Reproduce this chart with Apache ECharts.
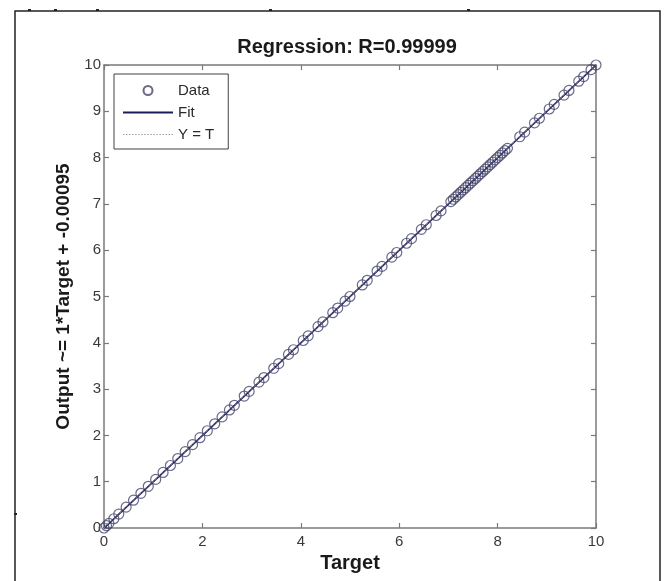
<!DOCTYPE html>
<html>
<head>
<meta charset="utf-8">
<script src="https://cdn.jsdelivr.net/npm/echarts@6/dist/echarts.min.js"></script>
<style>html,body{margin:0;padding:0;background:#fff}#c{width:665px;height:581px}</style>
</head>
<body>
<div id="c"></div>
<script>
// Data
const targets = [0, 0.05, 0.1, 0.2, 0.3, 0.45, 0.6, 0.75, 0.9, 1.05, 1.2, 1.35, 1.5, 1.65, 1.8, 1.95, 2.1, 2.25, 2.4, 2.55, 2.65, 2.85, 2.95, 3.15, 3.25, 3.45, 3.55, 3.75, 3.85, 4.05, 4.15, 4.35, 4.45, 4.65, 4.75, 4.9, 5.0, 5.25, 5.35, 5.55, 5.65, 5.85, 5.95, 6.15, 6.25, 6.45, 6.55, 6.75, 6.85, 7.05, 7.1, 7.15, 7.2, 7.25, 7.3, 7.35, 7.4, 7.45, 7.5, 7.55, 7.6, 7.65, 7.7, 7.75, 7.8, 7.85, 7.9, 7.95, 8.0, 8.05, 8.1, 8.15, 8.2, 8.45, 8.55, 8.75, 8.85, 9.05, 9.15, 9.35, 9.45, 9.65, 9.75, 9.9, 10];
const outputs = [0, 0.05, 0.1, 0.2, 0.3, 0.45, 0.6, 0.75, 0.9, 1.05, 1.2, 1.35, 1.5, 1.65, 1.8, 1.95, 2.1, 2.25, 2.4, 2.55, 2.65, 2.85, 2.95, 3.15, 3.25, 3.45, 3.55, 3.75, 3.85, 4.05, 4.15, 4.35, 4.45, 4.65, 4.75, 4.9, 5.0, 5.25, 5.35, 5.55, 5.65, 5.85, 5.95, 6.15, 6.25, 6.45, 6.55, 6.75, 6.85, 7.05, 7.1, 7.15, 7.2, 7.25, 7.3, 7.35, 7.4, 7.45, 7.5, 7.55, 7.6, 7.65, 7.7, 7.75, 7.8, 7.85, 7.9, 7.95, 8.0, 8.05, 8.1, 8.15, 8.2, 8.45, 8.55, 8.75, 8.85, 9.05, 9.15, 9.35, 9.45, 9.65, 9.75, 9.9, 10];
const fitSlope = 1;
const fitIntercept = -0.00095;
const lineEnds = [0, 10];
const xTicks = [0, 2, 4, 6, 8, 10];
const yTicks = [0, 1, 2, 3, 4, 5, 6, 7, 8, 9, 10];
const titleText = 'Regression: R=0.99999';
const xName = 'Target';
const yName = 'Output ~= 1*Target + -0.00095';
const legendNames = ['Data', 'Fit', 'Y = T'];

const FONT = '"Liberation Sans", Arial, sans-serif';
const axisColor = '#7a7a7a';
const labelColor = '#3a3a3a';

const chart = echarts.init(document.getElementById('c'));

const baseAxis = {
  min: 0, max: 10,
  axisLine: { show: true, onZero: false, lineStyle: { color: axisColor, width: 1.5 } },
  axisTick: { show: true, inside: true, length: 5, lineStyle: { color: axisColor, width: 1.2 } },
  splitLine: { show: false },
};

const solidIcon = 'path://M0,0 L50,0 L50,1.8 L0,1.8 Z';
let dots = '';
for (let k = 0; k < 50; k += 3) dots += 'M' + k + ',0 L' + (k + 1.4) + ',0 L' + (k + 1.4) + ',1.2 L' + k + ',1.2 Z ';
const dottedIcon = 'path://' + dots;

chart.setOption({
  animation: false,
  backgroundColor: '#fff',
  title: {
    text: titleText, left: 342, textAlign: 'center', top: 32,
    textStyle: { fontFamily: FONT, fontSize: 20, fontWeight: 'bold', color: '#1a1a1a' }
  },
  grid: { left: 104, right: 69, top: 65, bottom: 53 },
  legend: {
    orient: 'vertical', left: 114, top: 74,
    padding: [9, 14, 7, 9], itemGap: 7, itemWidth: 50, itemHeight: 9,
    borderColor: '#404040', borderWidth: 1, backgroundColor: '#fff',
    textStyle: { fontFamily: FONT, fontSize: 15, color: '#2a2a2a' },
    data: [
      { name: legendNames[0], icon: 'circle' },
      { name: legendNames[1], icon: solidIcon },
      { name: legendNames[2], icon: dottedIcon }
    ]
  },
  xAxis: [
    Object.assign({}, baseAxis, {
      type: 'value', position: 'bottom', interval: 2,
      name: xName, nameLocation: 'middle', nameGap: 25,
      nameTextStyle: { fontFamily: FONT, fontSize: 20, fontWeight: 'bold', color: '#1a1a1a' },
      axisLabel: { fontFamily: FONT, fontSize: 15, color: labelColor, margin: 6 }
    }),
    Object.assign({}, baseAxis, {
      type: 'value', position: 'top', interval: 2, axisLabel: { show: false }
    })
  ],
  yAxis: [
    Object.assign({}, baseAxis, {
      type: 'value', position: 'left', interval: 1,
      name: yName, nameLocation: 'middle', nameGap: 31, nameRotate: 90,
      nameTextStyle: { fontFamily: FONT, fontSize: 19, fontWeight: 'bold', color: '#1a1a1a' },
      axisLabel: { fontFamily: FONT, fontSize: 15, color: labelColor, margin: 3 }
    }),
    Object.assign({}, baseAxis, {
      type: 'value', position: 'right', interval: 1, axisLabel: { show: false }
    })
  ],
  series: [
    {
      name: legendNames[0], type: 'scatter', symbol: 'circle', symbolSize: 10,
      xAxisIndex: 0, yAxisIndex: 0,
      itemStyle: { color: 'rgba(255,255,255,0)', borderColor: '#45456a', borderWidth: 1.2 },
      data: targets.map((t, i) => [t, outputs[i]]), z: 2
    },
    {
      name: legendNames[1], type: 'line', showSymbol: false, symbol: 'none',
      xAxisIndex: 0, yAxisIndex: 0,
      lineStyle: { color: '#1c1c5a', width: 1.6 },
      itemStyle: { color: '#1c1c5a' },
      data: lineEnds.map(x => [x, fitSlope * x + fitIntercept]), z: 3
    },
    {
      name: legendNames[2], type: 'line', showSymbol: false, symbol: 'none',
      xAxisIndex: 0, yAxisIndex: 0,
      lineStyle: { color: '#9a9a9a', width: 1, type: 'dotted' },
      itemStyle: { color: '#9a9a9a' },
      data: lineEnds.map(x => [x, x]), z: 4
    }
  ],
  graphic: [
    { type: 'polyline', shape: { points: [[15, 600], [15, 11], [660, 11], [660, 600]] },
      style: { stroke: '#222', lineWidth: 1.5, fill: null }, silent: true },
    { type: 'rect', shape: { x: 28, y: 9, width: 3, height: 2 }, style: { fill: '#222' }, silent: true },
    { type: 'rect', shape: { x: 54, y: 9, width: 3, height: 2 }, style: { fill: '#222' }, silent: true },
    { type: 'rect', shape: { x: 96, y: 9, width: 3, height: 2 }, style: { fill: '#222' }, silent: true },
    { type: 'rect', shape: { x: 269, y: 9, width: 3, height: 2 }, style: { fill: '#222' }, silent: true },
    { type: 'rect', shape: { x: 467, y: 9, width: 3, height: 2 }, style: { fill: '#222' }, silent: true },
    { type: 'rect', shape: { x: 14, y: 513, width: 3, height: 2 }, style: { fill: '#222' }, silent: true }
  ]
});
</script>
</body>
</html>
